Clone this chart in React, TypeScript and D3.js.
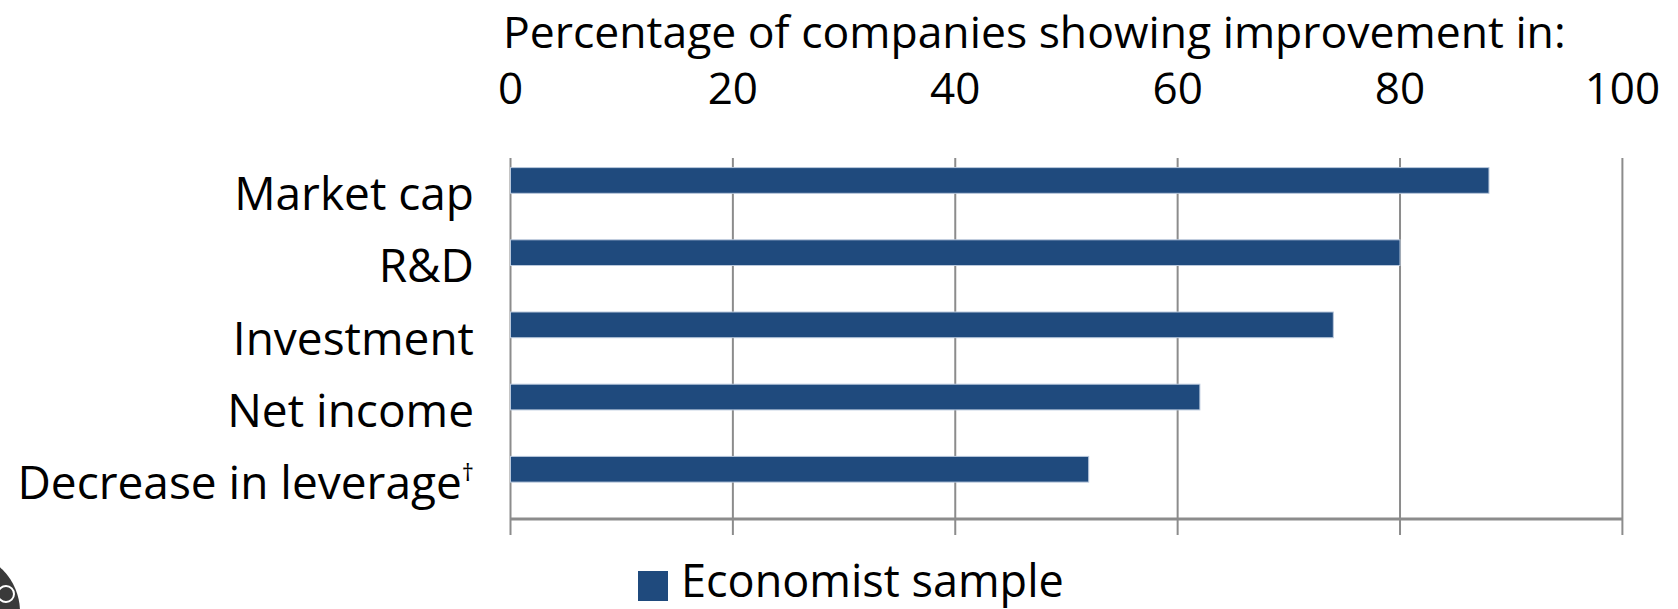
import React, { useEffect, useRef } from 'react';
import * as d3 from 'd3';

const categories = ['Market cap', 'R&D', 'Investment', 'Net income', 'Decrease in leverage'];
const values = [88, 80, 74, 62, 52];
const tickValues = [0, 20, 40, 60, 80, 100];
const seriesName = 'Economist sample';
const axisTitle = 'Percentage of companies showing improvement in:';

const W = 1678;
const H = 609;
const FONT = "'Open Sans', sans-serif";
const BAR = '#1f4a7d';
const GRID = '#8c8c8c';

const App: React.FC = () => {
  const svgRef = useRef<SVGSVGElement>(null);

  useEffect(() => {
    if (!svgRef.current) return;
    const svg = d3.select(svgRef.current);
    svg.selectAll('*').remove();

    const top = 158;
    const bottom = 519;

    const x = d3.scaleLinear().domain([0, 100]).range([510.5, 1622.4]);
    const y = d3.scaleBand<string>().domain(categories).range([top, bottom]).padding(0);
    const step = y.bandwidth();

    svg.append('rect').attr('width', W).attr('height', H).attr('fill', '#fff');

    // vertical gridlines incl. ticks below axis
    svg.append('g')
      .selectAll('line')
      .data(tickValues)
      .join('line')
      .attr('x1', d => x(d))
      .attr('x2', d => x(d))
      .attr('y1', top)
      .attr('y2', bottom + 16)
      .attr('stroke', GRID)
      .attr('stroke-width', 2);

    // bottom axis line
    svg.append('line')
      .attr('x1', x(0))
      .attr('x2', x(100))
      .attr('y1', bottom)
      .attr('y2', bottom)
      .attr('stroke', GRID)
      .attr('stroke-width', 3);

    // bars sit in the upper part of each band
    svg.append('g')
      .selectAll('rect')
      .data(values)
      .join('rect')
      .attr('x', x(0))
      .attr('y', (d, i) => (y(categories[i]) as number) + step * 0.133)
      .attr('width', d => x(d) - x(0))
      .attr('height', step * 0.356)
      .attr('fill', BAR)
      .attr('stroke', '#b9c8dc')
      .attr('stroke-width', 1);

    // category labels
    const labels = svg.append('g')
      .selectAll('text')
      .data(categories)
      .join('text')
      .attr('x', 474)
      .attr('y', d => (y(d) as number) + step / 2 + 16)
      .attr('text-anchor', 'end')
      .style('font-family', FONT)
      .style('font-size', '46px')
      .attr('fill', '#000')
      .text(d => d);

    labels.filter(d => d === 'Decrease in leverage')
      .append('tspan')
      .attr('dy', -18)
      .style('font-size', '24px')
      .text('†');

    // tick labels on top
    svg.append('g')
      .selectAll('text')
      .data(tickValues)
      .join('text')
      .attr('x', d => x(d))
      .attr('y', 104)
      .attr('text-anchor', 'middle')
      .style('font-family', FONT)
      .style('font-size', '44px')
      .attr('fill', '#000')
      .text(d => d);

    svg.append('text')
      .attr('x', 503)
      .attr('y', 48)
      .style('font-family', FONT)
      .style('font-size', '44.5px')
      .attr('fill', '#000')
      .text(axisTitle);

    // legend
    const legend = svg.append('g');
    legend.append('rect')
      .attr('x', 638)
      .attr('y', 571)
      .attr('width', 30)
      .attr('height', 30)
      .attr('fill', BAR);
    legend.append('text')
      .attr('x', 681)
      .attr('y', 597)
      .style('font-family', FONT)
      .style('font-size', '45px')
      .attr('fill', '#000')
      .text(seriesName);

    // cut-off logo in the bottom-left corner
    svg.append('circle')
      .attr('cx', -40)
      .attr('cy', 612)
      .attr('r', 60)
      .attr('fill', '#3a3a3a');
    svg.append('circle')
      .attr('cx', 6)
      .attr('cy', 594)
      .attr('r', 8)
      .attr('fill', 'none')
      .attr('stroke', '#fff')
      .attr('stroke-width', 2);
  }, []);

  return (
    <svg
      ref={svgRef}
      width={W}
      height={H}
      style={{ position: 'absolute', left: 0, top: 0, display: 'block' }}
    />
  );
};

export default App;
